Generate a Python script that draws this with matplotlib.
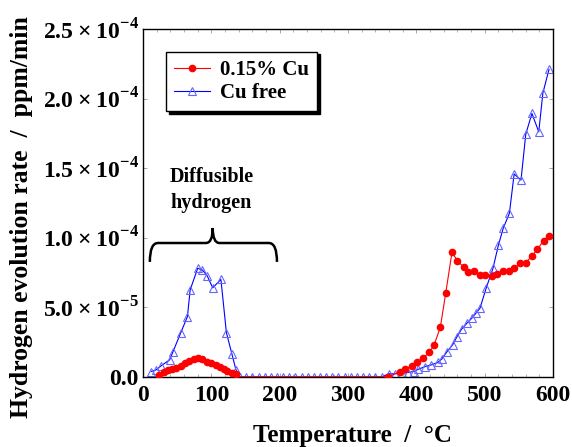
import numpy as np
import matplotlib
matplotlib.use('Agg')
import matplotlib.pyplot as plt
from matplotlib.path import Path
from matplotlib.patches import PathPatch
from matplotlib.ticker import FixedLocator, MultipleLocator

plt.rcParams['font.family'] = 'Liberation Serif'
plt.rcParams['font.weight'] = 'bold'
plt.rcParams['mathtext.fontset'] = 'custom'
plt.rcParams['mathtext.rm'] = 'Liberation Serif:bold'
plt.rcParams['mathtext.bf'] = 'Liberation Serif:bold'

# Cu free (values in 1e-5 ppm/min)
free_t = [12, 19, 27, 39, 44, 55, 65, 69, 80, 87, 94, 102, 114, 122, 130, 136, 142,
          151, 160, 169, 178, 187, 196, 205, 214, 223, 232, 241, 250, 259, 268, 277,
          286, 295, 304, 313, 322, 331, 340, 349,
          360, 369, 379, 387, 396, 403, 413, 422, 431, 437, 445, 453, 459, 466, 474,
          481, 487, 493, 502, 512, 520, 527, 536, 543, 553, 560, 569, 579, 585, 594]
free_v = [0.38, 0.5, 0.81, 1.22, 1.82, 3.14, 4.33, 6.25, 7.8, 7.68, 7.25, 6.4, 7.0, 3.18, 1.65, 0.5, 0.0,
          0, 0, 0, 0, 0, 0, 0, 0, 0, 0, 0, 0, 0, 0, 0,
          0, 0, 0, 0, 0, 0, 0, 0,
          0.22, 0.22, 0.26, 0.31, 0.38, 0.55, 0.74, 0.86, 1.03, 1.27, 1.82, 2.3, 2.85, 3.42, 3.86,
          4.21, 4.57, 4.93, 6.37, 7.8, 9.48, 10.68, 11.75, 14.58, 14.14, 17.45, 18.93, 17.61, 20.4, 22.1]

# 0.15% Cu
cu_t = [24, 30, 36, 42, 49, 55, 62, 68, 75, 81, 87, 94, 100, 107, 112, 118, 123, 130, 136,
        142, 151, 160, 169, 178, 187, 196, 205, 214, 223, 232, 241, 250, 259, 268, 277,
        286, 295, 304, 313, 322, 331, 340, 349,
        359, 376, 383, 393, 401, 409, 419, 426, 435, 443, 452, 460, 469, 476, 484, 493,
        501, 510, 518, 527, 535, 543, 552, 560, 569, 577, 586, 594]
cu_v = [0.14, 0.38, 0.5, 0.55, 0.62, 0.79, 0.98, 1.15, 1.27, 1.34, 1.27, 1.1, 0.98, 0.86, 0.74, 0.55, 0.45, 0.31, 0.22,
        0, 0, 0, 0, 0, 0, 0, 0, 0, 0, 0, 0, 0, 0, 0, 0,
        0, 0, 0, 0, 0, 0, 0, 0,
        0.0, 0.38, 0.55, 0.79, 1.03, 1.34, 1.75, 2.3, 3.57, 6.05, 8.95, 8.35, 7.88, 7.56, 7.63, 7.32,
        7.32, 7.25, 7.4, 7.63, 7.63, 7.8, 8.16, 8.2, 8.69, 9.17, 9.79, 10.1]

yticks = [0, 5e-5, 1e-4, 1.5e-4, 2e-4, 2.5e-4]
ylabels = ['0.0', r'$5.0\times10^{-5}$', r'$1.0\times10^{-4}$', r'$1.5\times10^{-4}$',
           r'$2.0\times10^{-4}$', r'$2.5\times10^{-4}$']

free_t = np.array(free_t)
free_v = np.array(free_v) * 1e-5
cu_t = np.array(cu_t)
cu_v = np.array(cu_v) * 1e-5
cu_marks = [i for i, t in enumerate(cu_t) if t < 140 or t > 355]

fig = plt.figure(figsize=(5.72, 4.47), dpi=100)
ax = fig.add_axes([0.25, 0.157, 0.717, 0.778])

ax.plot(free_t, free_v, color='#0000ff', lw=0.8, marker='^', ms=5.5,
        mfc='none', mec='#6666ff', mew=0.8, label='Cu free', zorder=2)
ax.plot(cu_t, cu_v, color='#ff0000', lw=0.8, marker='o', ms=4.5,
        mfc='#ff0000', mec='#ff0000', markevery=cu_marks, label='0.15% Cu', zorder=3)

ax.set_xlim(0, 600)
ax.set_ylim(0, 2.5e-4)
ax.xaxis.set_major_locator(MultipleLocator(100))
ax.xaxis.set_minor_locator(MultipleLocator(20))
ax.yaxis.set_major_locator(FixedLocator(yticks))
ax.set_yticklabels(ylabels)
ax.tick_params(which='both', direction='in', top=True, right=True, color='#999999',
               labelsize=17)
ax.tick_params(axis='y', pad=3)
ax.tick_params(axis='x', pad=6)
ax.tick_params(which='major', length=3, width=0.6)
ax.tick_params(which='minor', length=2, width=0.5)
for s in ax.spines.values():
    s.set_linewidth(1.0)

ax.set_xlabel('Temperature  /  \u00b0C', fontsize=18, fontweight='bold')
ax.set_ylabel('Hydrogen evolution rate  /  ppm/min', fontsize=18.5, fontweight='bold')
ax.xaxis.set_label_coords(0.512, -0.135)
ax.yaxis.set_label_coords(-0.268, 0.46)

h, l = ax.get_legend_handles_labels()
leg = ax.legend(h[::-1], l[::-1], loc='upper left', bbox_to_anchor=(0.056, 0.935),
                borderaxespad=0, fancybox=False, edgecolor='black', framealpha=1,
                shadow={'color': 'black', 'alpha': 1}, prop={'size': 15, 'weight': 'bold'},
                handlelength=1.7, handletextpad=0.5, labelspacing=0.15, borderpad=0.4)
leg.get_frame().set_linewidth(1.0)

# brace annotation
verts = [(10, 8.26e-5), (10, 9.62e-5), (22, 9.62e-5), (92, 9.62e-5), (102, 9.62e-5),
         (102, 10.7e-5), (102, 9.62e-5), (112, 9.62e-5), (184, 9.62e-5), (196, 9.62e-5),
         (196, 8.26e-5)]
codes = [Path.MOVETO, Path.CURVE3, Path.CURVE3, Path.LINETO, Path.CURVE3, Path.CURVE3,
         Path.CURVE3, Path.CURVE3, Path.LINETO, Path.CURVE3, Path.CURVE3]
ax.add_patch(PathPatch(Path(verts, codes), fill=False, lw=1.8, color='black'))
ax.text(100, 1.345e-4, 'Diffusible\nhydrogen', ha='center', va='center',
        fontsize=14.5, fontweight='bold', linespacing=1.4)

fig.savefig('out.png', dpi=100)
